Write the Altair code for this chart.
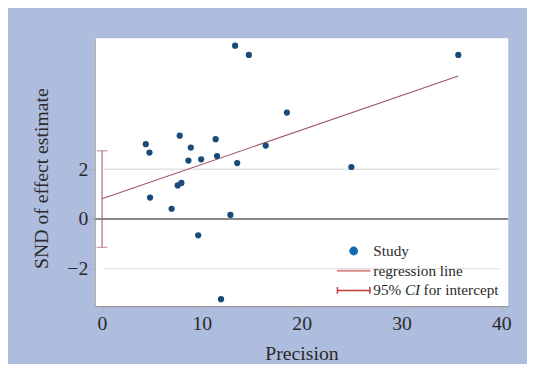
import altair as alt
import pandas as pd

# Study points
precision = [4.38, 4.75, 4.81, 6.97, 7.58, 7.95, 7.78, 8.65, 8.89, 9.93, 9.63,
             11.38, 11.52, 11.92, 12.86, 13.33, 13.54, 14.71, 16.40, 18.52, 24.98, 35.69]
snd = [3.01, 2.67, 0.86, 0.41, 1.35, 1.45, 3.35, 2.35, 2.87, 2.40, -0.66,
       3.21, 2.53, -3.23, 0.16, 6.97, 2.25, 6.60, 2.95, 4.28, 2.09, 6.60]

# Regression line end points
reg_x = [0.0, 35.69]
reg_y = [0.81, 5.75]

# 95% CI for intercept
ci_low = [-1.14]
ci_high = [2.74]

# Reference lines
grid_y = [-2, 2]
grid_x = [0.2, 39.8]
zero_y = [0]

x_ticks = [0, 10, 20, 30, 40]
y_ticks = [-2, 0, 2]
x_domain = [-0.74, 40.7]
y_domain = [-3.51, 7.27]

FONT = "Liberation Serif"
BG = "#aebcde"
PT = "#1a4a7a"
REG = "#9e5566"
CI = "#a04c5c"
LEG_DOT = "#0e6db2"
LEG_REG = "#d98a8a"
LEG_CI = "#c43c3c"
TXT = "#2a2a2a"

pts = pd.DataFrame({"Precision": precision, "SND": snd})
reg = pd.DataFrame({"x": reg_x, "y": reg_y})
ci = pd.DataFrame({"x": [0.0], "lo": ci_low, "hi": ci_high})
grid = pd.DataFrame([{"x": grid_x[0], "x2": grid_x[1], "y": g} for g in grid_y])
zero = pd.DataFrame({"y": zero_y})

xs = alt.Scale(domain=x_domain, nice=False, zero=False)
ys = alt.Scale(domain=y_domain, nice=False, zero=False)

x_axis = alt.Axis(values=x_ticks, grid=False, title="Precision", tickSize=5,
                  labelPadding=3, labelFontSize=20, titleFontSize=20,
                  titleY=54, titleBaseline="alphabetic", titleFontWeight="normal")
y_axis = alt.Axis(values=y_ticks, grid=False, title="SND of effect estimate",
                  tickSize=6, labelPadding=1, labelFontSize=20, titleFontSize=20,
                  titleX=-48, titleY=142, titleAngle=270, titleAlign="center",
                  titleBaseline="alphabetic", titleFontWeight="normal")

grid_layer = alt.Chart(grid).mark_rule(color="#e2e2e2", strokeWidth=1.5).encode(
    x=alt.X("x:Q", scale=xs, axis=x_axis), x2="x2:Q",
    y=alt.Y("y:Q", scale=ys, axis=y_axis))

zero_layer = alt.Chart(zero).mark_rule(color="#8c8c8c", strokeWidth=2).encode(
    y=alt.Y("y:Q", scale=ys))

ci_rule = alt.Chart(ci).mark_rule(color=CI, strokeWidth=1).encode(
    x=alt.X("x:Q", scale=xs), y=alt.Y("lo:Q", scale=ys), y2="hi:Q")
ci_cap_lo = alt.Chart(ci).mark_tick(color=CI, orient="horizontal", size=11, thickness=1).encode(
    x=alt.X("x:Q", scale=xs), y=alt.Y("lo:Q", scale=ys))
ci_cap_hi = alt.Chart(ci).mark_tick(color=CI, orient="horizontal", size=11, thickness=1).encode(
    x=alt.X("x:Q", scale=xs), y=alt.Y("hi:Q", scale=ys))

reg_layer = alt.Chart(reg).mark_line(color=REG, strokeWidth=1.1).encode(
    x=alt.X("x:Q", scale=xs), y=alt.Y("y:Q", scale=ys))

pt_layer = alt.Chart(pts).mark_circle(color=PT, size=40, opacity=1).encode(
    x=alt.X("Precision:Q", scale=xs), y=alt.Y("SND:Q", scale=ys))

# Manual legend (layout only)
one = pd.DataFrame({"k": [0]})
leg_dot = alt.Chart(one).mark_circle(color=LEG_DOT, size=80, opacity=1).encode(
    x=alt.value(263), y=alt.value(216))
txt = dict(font=FONT, fontSize=15.5, color=TXT, align="left", baseline="middle")
leg_t1 = alt.Chart(one).mark_text(text="Study", **txt).encode(x=alt.value(283), y=alt.value(216))
leg_line = alt.Chart(one).mark_rule(color=LEG_REG, strokeWidth=2).encode(
    x=alt.value(246), x2=alt.value(280), y=alt.value(236))
leg_t2 = alt.Chart(one).mark_text(text="regression line", **txt).encode(x=alt.value(283), y=alt.value(236))
leg_ci = alt.Chart(one).mark_rule(color=LEG_CI, strokeWidth=1.5).encode(
    x=alt.value(246), x2=alt.value(280), y=alt.value(256))
leg_ci_a = alt.Chart(one).mark_rule(color=LEG_CI, strokeWidth=1.5).encode(
    x=alt.value(246.5), y=alt.value(252.5), y2=alt.value(259.5))
leg_ci_b = alt.Chart(one).mark_rule(color=LEG_CI, strokeWidth=1.5).encode(
    x=alt.value(279.5), y=alt.value(252.5), y2=alt.value(259.5))
leg_t3a = alt.Chart(one).mark_text(text="95%", **txt).encode(x=alt.value(283), y=alt.value(256))
leg_t3b = alt.Chart(one).mark_text(text="CI", fontStyle="italic", **txt).encode(x=alt.value(315), y=alt.value(256))
leg_t3c = alt.Chart(one).mark_text(text="for intercept", **txt).encode(x=alt.value(334), y=alt.value(256))

chart = alt.layer(
    grid_layer, zero_layer, ci_rule, ci_cap_lo, ci_cap_hi, reg_layer, pt_layer,
    leg_dot, leg_t1, leg_line, leg_t2, leg_ci, leg_ci_a, leg_ci_b, leg_t3a, leg_t3b, leg_t3c
).properties(
    width=420, height=272,
    padding={"left": 88, "top": 28, "right": 19, "bottom": 56},
    autosize=alt.AutoSizeParams(type="none"),
    background=BG,
).configure_view(
    fill="white", stroke=None
).configure_axis(
    labelFont=FONT, titleFont=FONT, labelColor=TXT, titleColor=TXT,
    domainColor="#9a9a9a", tickColor="#b0b0b0", domainWidth=1.2,
)

chart.save("out.html", embed_options={"renderer": "svg", "actions": False})
